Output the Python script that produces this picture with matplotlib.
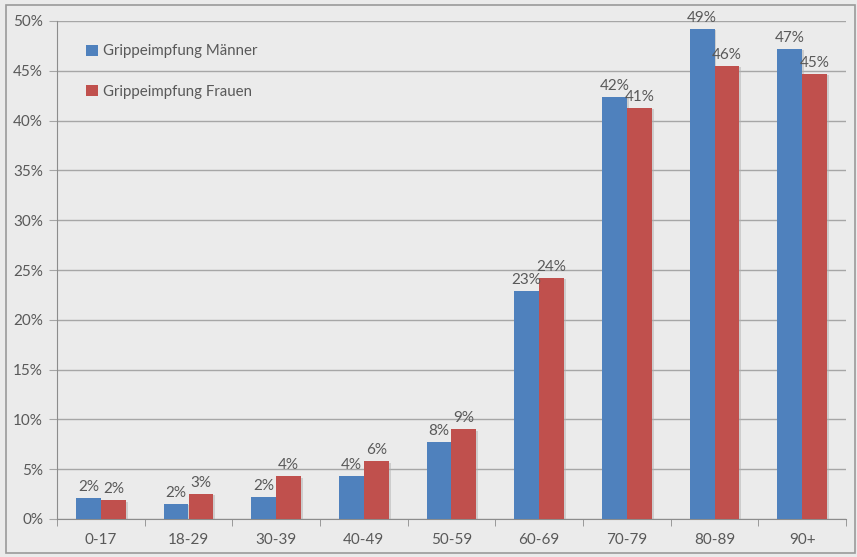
import numpy as np
import matplotlib.pyplot as plt
from matplotlib.patches import Rectangle
from matplotlib.ticker import FuncFormatter, MultipleLocator

plt.rcParams["font.family"] = ["Lato", "DejaVu Sans"]

age_groups = ["0-17", "18-29", "30-39", "40-49", "50-59", "60-69", "70-79", "80-89", "90+"]
maenner = [2.1, 1.55, 2.2, 4.3, 7.7, 22.9, 42.4, 49.2, 47.2]
frauen = [1.9, 2.52, 4.3, 5.8, 9.0, 24.2, 41.3, 45.5, 44.7]

blue = "#4f81bd"
red = "#c0504d"
text_col = "#595959"
bg = "#ebebeb"

fig = plt.figure(figsize=(8.57, 5.57), dpi=100, facecolor=bg)
ax = fig.add_axes([57 / 857, 1 - 519 / 557, (846 - 57) / 857, (519 - 21) / 557])
ax.set_facecolor(bg)

x = np.arange(len(age_groups))
w = 0.285
for off, vals, col, name in [(-w / 2, maenner, blue, "Grippeimpfung Männer"),
                             (w / 2, frauen, red, "Grippeimpfung Frauen")]:
    # faint shadow like the Excel original
    ax.bar(x + off + 0.02, vals, w, bottom=-0.15, color="#b0b0b0", alpha=0.5, zorder=2)
    bars = ax.bar(x + off, vals, w, color=col, label=name, zorder=3)
    for b, v in zip(bars, vals):
        ax.text(b.get_x() + b.get_width() / 2, v + 0.4, f"{v:.0f}%",
                ha="center", va="bottom", fontsize=11, color=text_col, zorder=4)

ax.set_xlim(-0.5, len(age_groups) - 0.5)
ax.set_ylim(0, 50)
ax.yaxis.set_major_locator(MultipleLocator(5))
ax.yaxis.set_major_formatter(FuncFormatter(lambda v, _: f"{v:.0f}%"))
ax.grid(axis="y", color="#a6a6a6", linewidth=1.0, zorder=0)
ax.set_axisbelow(True)

ax.set_xticks(x)
ax.set_xticklabels(age_groups)
ax.set_xticks(np.arange(-0.5, len(age_groups)), minor=True)
ax.tick_params(axis="x", which="major", length=0, pad=10, labelsize=11, labelcolor=text_col)
ax.tick_params(axis="x", which="minor", length=5, color="#8c8c8c", direction="out")
ax.tick_params(axis="y", length=6, color="#a6a6a6", labelsize=11, labelcolor=text_col, pad=4)

for s in ["top", "right"]:
    ax.spines[s].set_visible(False)
ax.spines["left"].set_color("#8c8c8c")
ax.spines["bottom"].set_color("#8c8c8c")

leg = ax.legend(loc="upper left", bbox_to_anchor=(0.02, 0.98), frameon=False,
                fontsize=10.8, labelspacing=1.75, handlelength=0.8, handleheight=0.8,
                handletextpad=0.3)
for t in leg.get_texts():
    t.set_color(text_col)

fig.patches.append(Rectangle((6 / 857, 1 - 553 / 557), 849 / 857, 548 / 557,
                             transform=fig.transFigure, fill=False,
                             edgecolor="#9a9a9a", linewidth=1.2))

fig.savefig("out.png", dpi=100, facecolor=bg)
